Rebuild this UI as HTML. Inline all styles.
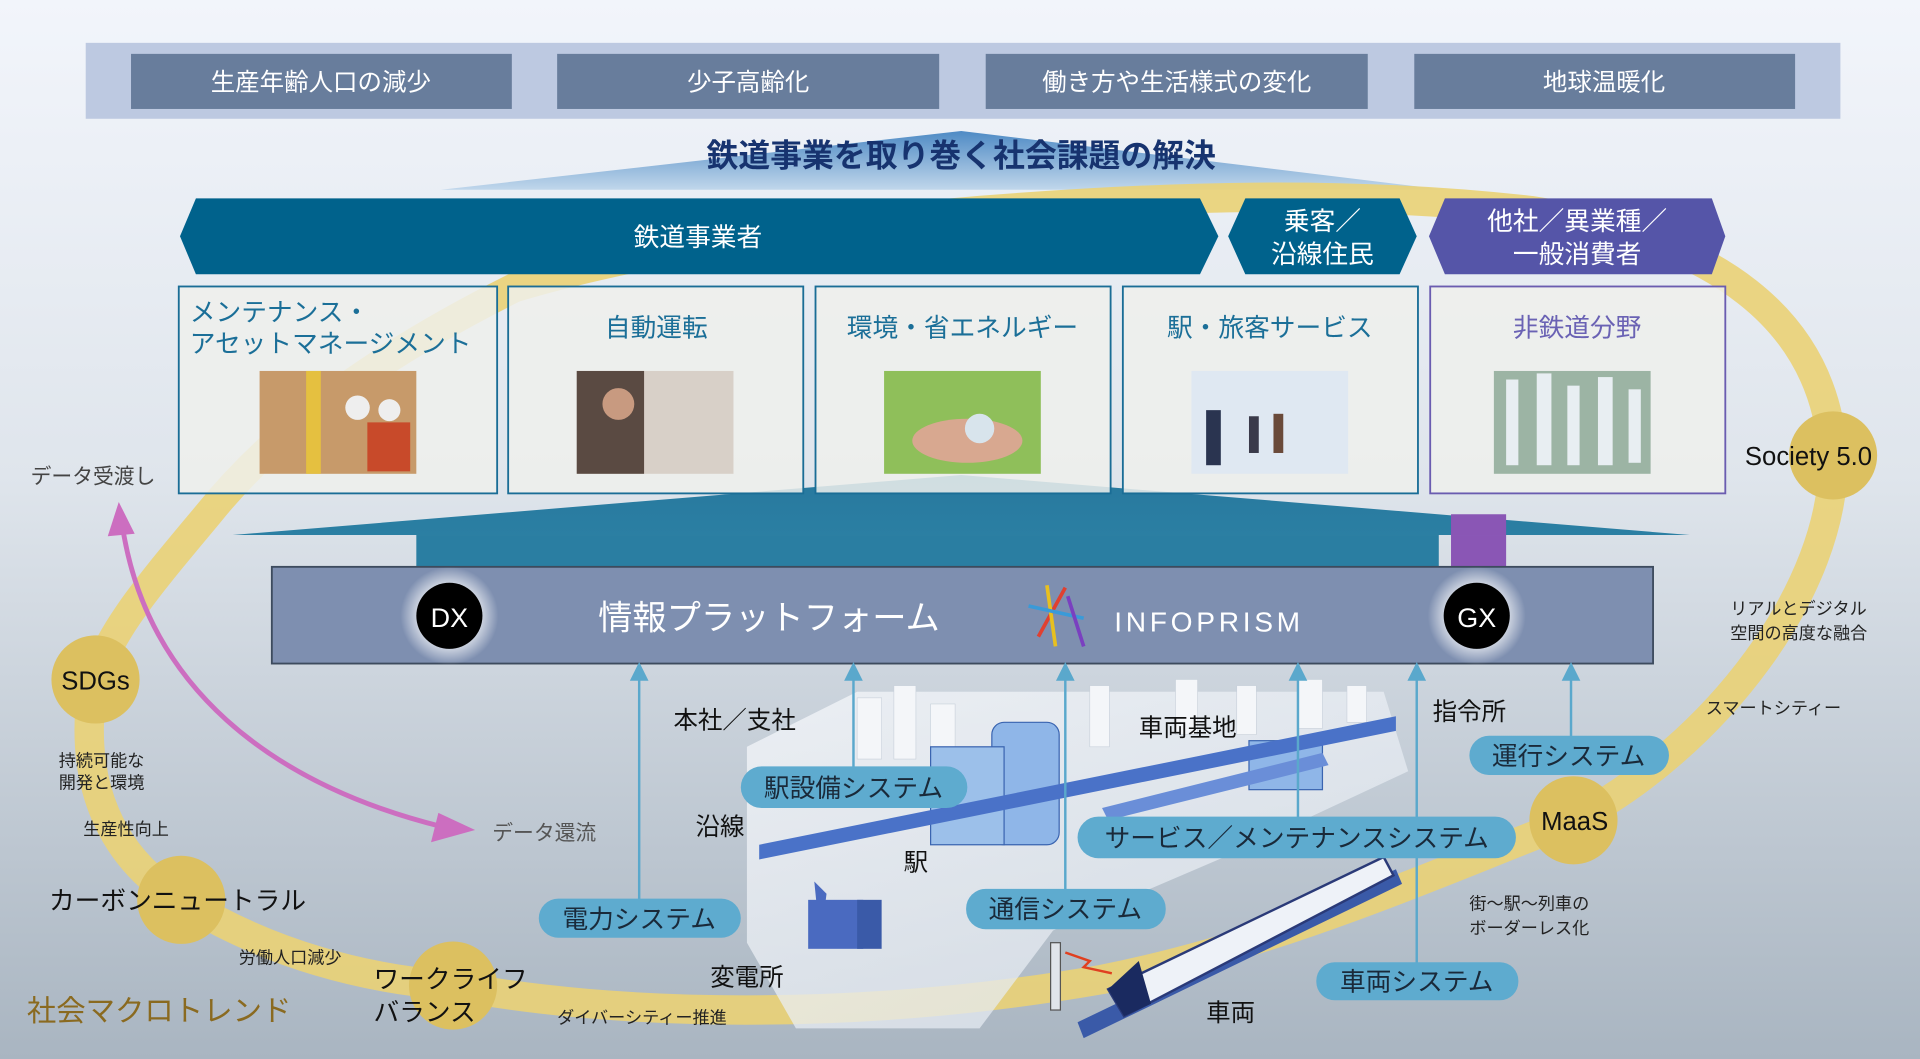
<!DOCTYPE html>
<html><head><meta charset="utf-8"><style>
html,body{margin:0;padding:0;width:1920px;height:1059px;overflow:hidden}
svg{display:block}
text{font-family:"Liberation Sans","Noto Sans CJK JP",sans-serif}
</style></head><body>
<svg width="1920" height="1059" viewBox="0 0 1568 865" preserveAspectRatio="none" xmlns="http://www.w3.org/2000/svg">
<defs>
<linearGradient id="bg" x1="0" y1="0" x2="0" y2="1">
<stop offset="0" stop-color="#f2f5fb"/><stop offset="0.45" stop-color="#dfe5ec"/><stop offset="1" stop-color="#a9b5c1"/></linearGradient>
<linearGradient id="tri" x1="0" y1="0" x2="0" y2="1">
<stop offset="0" stop-color="#3d7fbf"/><stop offset="1" stop-color="#bcd4ea"/></linearGradient>
<linearGradient id="trap" x1="0" y1="0" x2="0" y2="1">
<stop offset="0" stop-color="#27789e"/><stop offset="1" stop-color="#2b7fa3"/></linearGradient>
<radialGradient id="glow"><stop offset="0.5" stop-color="#ffffff" stop-opacity="0.9"/><stop offset="1" stop-color="#ffffff" stop-opacity="0"/></radialGradient>
<linearGradient id="city" x1="0" y1="0" x2="1" y2="1"><stop offset="0" stop-color="#f6f8fb"/><stop offset="1" stop-color="#dce3ec"/></linearGradient>
</defs>
<rect width="1568" height="865" fill="url(#bg)"/>
<rect x="70" y="35" width="1433" height="62" fill="#bdc9e1"/>
<g fill="#687d9c">
<rect x="107" y="44" width="311" height="45"/><rect x="455" y="44" width="312" height="45"/>
<rect x="805" y="44" width="312" height="45"/><rect x="1155" y="44" width="311" height="45"/></g>
<g fill="#fff" font-size="20" text-anchor="middle">
<text x="262" y="74">生産年齢人口の減少</text><text x="611" y="74">少子高齢化</text>
<text x="961" y="74">働き方や生活様式の変化</text><text x="1310" y="74">地球温暖化</text></g>
<polygon points="785,107 1180,155 360,155" fill="url(#tri)" opacity="0.9"/>
<text x="785" y="136" font-size="26" font-weight="bold" fill="#17336f" text-anchor="middle">鉄道事業を取り巻く社会課題の解決</text>
<path d="M420,235 C320,285 230,345 170,420 C120,480 85,520 75,565 C65,640 90,700 148,735 C220,780 300,800 370,805 C500,830 700,835 900,800 C1050,770 1180,710 1285,670 C1400,610 1500,480 1497,372 C1490,260 1400,195 1250,172 C1100,155 950,160 800,172 C650,185 520,205 420,235 Z" fill="none" stroke="#ead276" stroke-width="24" opacity="0.9"/>
<polygon points="160,162 980,162 995,193 980,224 160,224 147,193" fill="#00628c"/>
<polygon points="1017,162 1143,162 1157,193 1143,224 1017,224 1003,193" fill="#00628c"/>
<polygon points="1180,162 1398,162 1409,193 1398,224 1180,224 1167,193" fill="#5555a8"/>
<g fill="#fff" font-size="21" text-anchor="middle">
<text x="570" y="201">鉄道事業者</text>
<text x="1080" y="188">乗客／</text><text x="1080" y="215">沿線住民</text>
<text x="1288" y="188">他社／異業種／</text><text x="1288" y="215">一般消費者</text></g>
<polygon points="785,388 1380,437 190,437" fill="url(#trap)"/>
<rect x="340" y="437" width="835" height="26" fill="#2a7ea2"/>
<polygon points="1185,420 1230,420 1230,437 1380,437 1185,437" fill="#8a56b5"/>
<rect x="1185" y="437" width="45" height="26" fill="#8a56b5"/>
<g fill="#eef0ec" fill-opacity="0.85" stroke="#1a6d96" stroke-width="1.5">
<rect x="146" y="234" width="260" height="169"/><rect x="415" y="234" width="241" height="169"/>
<rect x="666" y="234" width="241" height="169"/><rect x="917" y="234" width="241" height="169"/>
<rect x="1168" y="234" width="241" height="169" stroke="#6a5cb0"/></g>
<g fill="#1b6f98" font-size="21">
<text x="155" y="262">メンテナンス・</text><text x="155" y="288">アセットマネージメント</text>
<text x="536" y="275" text-anchor="middle">自動運転</text>
<text x="786" y="275" text-anchor="middle">環境・省エネルギー</text>
<text x="1037" y="275" text-anchor="middle">駅・旅客サービス</text>
<text x="1288" y="275" text-anchor="middle" fill="#6a62b4">非鉄道分野</text></g>
<rect x="212" y="303" width="128" height="84" fill="#c79a6a"/><rect x="250" y="303" width="12" height="84" fill="#e5c040"/><circle cx="292" cy="333" r="10" fill="#eee"/><circle cx="318" cy="335" r="9" fill="#eee"/><rect x="300" y="345" width="35" height="40" fill="#c84a2a"/>
<rect x="471" y="303" width="128" height="84" fill="#d8d0c8"/><rect x="471" y="303" width="55" height="84" fill="#5a4a42"/><circle cx="505" cy="330" r="13" fill="#c89a80"/>
<rect x="722" y="303" width="128" height="84" fill="#8fbf5a"/><ellipse cx="790" cy="360" rx="45" ry="18" fill="#d8a890"/><circle cx="800" cy="350" r="12" fill="#d8e4ec"/>
<rect x="973" y="303" width="128" height="84" fill="#dfe8f2"/><rect x="985" y="335" width="12" height="45" fill="#2a3450"/><rect x="1020" y="340" width="8" height="30" fill="#3a3a4a"/><rect x="1040" y="338" width="8" height="32" fill="#6a4a3a"/>
<rect x="1220" y="303" width="128" height="84" fill="#9cb4a4"/><g fill="#e8eef2"><rect x="1230" y="310" width="10" height="70"/><rect x="1255" y="305" width="12" height="75"/><rect x="1280" y="315" width="10" height="65"/><rect x="1305" y="308" width="12" height="72"/><rect x="1330" y="318" width="10" height="60"/></g>
<polygon points="610,610 700,565 1130,565 1150,630 1000,700 860,760 800,840 650,840 610,770" fill="url(#city)" opacity="0.75"/>
<g fill="#f4f6f9" stroke="#c8d0da" stroke-width="0.5">
<rect x="700" y="570" width="20" height="50"/><rect x="730" y="560" width="18" height="60"/><rect x="760" y="575" width="20" height="45"/><rect x="890" y="560" width="16" height="50"/><rect x="960" y="555" width="18" height="45"/><rect x="1010" y="560" width="16" height="40"/><rect x="1060" y="555" width="20" height="40"/><rect x="1100" y="560" width="16" height="30"/></g>
<rect x="810" y="590" width="55" height="100" rx="10" fill="#8fb6e8" stroke="#3a64b0"/>
<rect x="760" y="610" width="60" height="80" fill="#9cc0ea" stroke="#3a64b0"/>
<rect x="1020" y="605" width="60" height="40" fill="#8fb6e8" stroke="#3a64b0"/>
<polygon points="620,690 1140,585 1140,597 620,702" fill="#4a72c8"/>
<polygon points="900,660 1080,615 1085,625 905,670" fill="#6a8ed8"/>
<g fill="#4a6ac0"><rect x="660" y="735" width="45" height="40"/><rect x="700" y="735" width="20" height="40" fill="#3a5aa8"/><polygon points="665,720 675,730 670,770"/></g>
<polygon points="880,835 1140,710 1145,722 885,848" fill="#3a5aa8"/>
<polygon points="905,808 1130,700 1138,715 918,830" fill="#eef2f8" stroke="#2a3a78" stroke-width="2"/>
<polygon points="905,808 930,785 940,820 918,830" fill="#1a2a60"/>
<rect x="858" y="770" width="8" height="55" fill="#e0e4ea" stroke="#555"/>
<polyline points="870,778 890,785 885,790 908,795" fill="none" stroke="#e04020" stroke-width="2"/>
<rect x="222" y="463" width="1128" height="79" fill="#7e8fb0" stroke="#3d4b5e" stroke-width="1.5"/>
<circle cx="367" cy="503" r="40" fill="url(#glow)"/><circle cx="1206" cy="503" r="40" fill="url(#glow)"/>
<circle cx="367" cy="503" r="27" fill="#000"/><circle cx="1206" cy="503" r="27" fill="#000"/>
<text x="367" y="512" font-size="22" fill="#fff" text-anchor="middle">DX</text>
<text x="1206" y="512" font-size="22" fill="#fff" text-anchor="middle">GX</text>
<text x="628" y="514" font-size="28" fill="#fff" text-anchor="middle">情報プラットフォーム</text>
<g stroke-width="3"><line x1="848" y1="520" x2="870" y2="480" stroke="#e04030"/><line x1="855" y1="478" x2="862" y2="528" stroke="#e8c020"/><line x1="840" y1="495" x2="885" y2="505" stroke="#3a9ad8"/><line x1="872" y1="487" x2="885" y2="528" stroke="#7a40c0"/></g>
<text x="910" y="516" font-size="23" fill="#fff" letter-spacing="3">INFOPRISM</text>
<g stroke="#5aa8cc" stroke-width="2" fill="#5aa8cc">
<line x1="522" y1="552" x2="522" y2="740"/><polygon points="516,555 528,555 522,543"/>
<line x1="697" y1="552" x2="697" y2="630"/><polygon points="691,555 703,555 697,543"/>
<line x1="870" y1="552" x2="870" y2="730"/><polygon points="864,555 876,555 870,543"/>
<line x1="1060" y1="552" x2="1060" y2="670"/><polygon points="1054,555 1066,555 1060,543"/>
<line x1="1157" y1="552" x2="1157" y2="790"/><polygon points="1151,555 1163,555 1157,543"/>
<line x1="1283" y1="552" x2="1283" y2="605"/><polygon points="1277,555 1289,555 1283,543"/></g>
<g fill="#dcc060"><circle cx="78" cy="555" r="36"/><circle cx="148" cy="735" r="36"/><circle cx="370" cy="805" r="36"/><circle cx="1285" cy="670" r="36"/><circle cx="1497" cy="372" r="36"/></g>
<path d="M100,430 C120,560 220,640 360,675" fill="none" stroke="#cc6ec0" stroke-width="4"/>
<polygon points="97,410 88,438 110,436" fill="#cc6ec0"/>
<polygon points="388,678 358,664 352,688" fill="#cc6ec0"/>
<g fill="#5eabcf">
<rect x="605" y="626" width="185" height="34" rx="17"/><rect x="1200" y="601" width="163" height="32" rx="16"/>
<rect x="880" y="667" width="358" height="34" rx="17"/><rect x="440" y="734" width="165" height="32" rx="16"/>
<rect x="789" y="726" width="163" height="33" rx="16"/><rect x="1075" y="786" width="165" height="31" rx="15"/></g>
<g font-size="21" fill="#1a2a3a" text-anchor="middle">
<text x="697" y="651">駅設備システム</text><text x="1281" y="625">運行システム</text>
<text x="1059" y="692">サービス／メンテナンスシステム</text><text x="522" y="758">電力システム</text>
<text x="870" y="750">通信システム</text><text x="1157" y="809">車両システム</text></g>
<g fill="#111" font-size="20">
<text x="550" y="595">本社／支社</text><text x="930" y="601">車両基地</text><text x="1170" y="588">指令所</text>
<text x="568" y="682">沿線</text><text x="738" y="711">駅</text><text x="580" y="805">変電所</text><text x="985" y="834">車両</text>
<text x="1425" y="380" font-size="21">Society 5.0</text>
<text x="78" y="563" text-anchor="middle" font-size="21">SDGs</text>
<text x="1286" y="678" text-anchor="middle" font-size="21">MaaS</text>
<text x="40" y="743" font-size="21">カーボンニュートラル</text>
<text x="305" y="807" font-size="21">ワークライフ</text><text x="305" y="834" font-size="21">バランス</text></g>
<g fill="#222" font-size="14">
<text x="48" y="626">持続可能な</text><text x="48" y="644">開発と環境</text>
<text x="68" y="682">生産性向上</text><text x="195" y="787">労働人口減少</text>
<text x="455" y="836">ダイバーシティー推進</text>
<text x="1413" y="502">リアルとデジタル</text><text x="1413" y="522">空間の高度な融合</text>
<text x="1393" y="583">スマートシティー</text>
<text x="1200" y="743">街〜駅〜列車の</text><text x="1200" y="763">ボーダーレス化</text></g>
<text x="25" y="395" font-size="17" fill="#444">データ受渡し</text>
<text x="402" y="686" font-size="17" fill="#555">データ還流</text>
<text x="22" y="834" font-size="24" fill="#8a6a20">社会マクロトレンド</text>
</svg>
</body></html>
